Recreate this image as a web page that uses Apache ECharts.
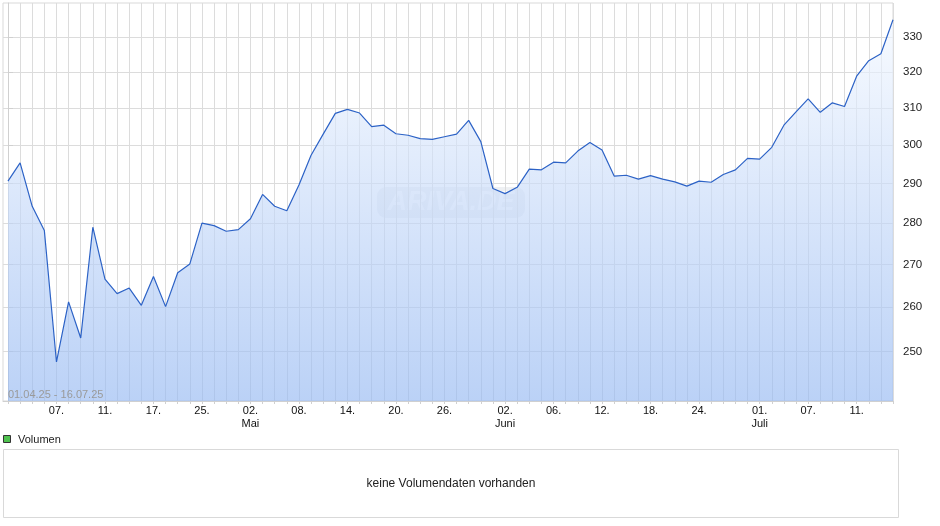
<!DOCTYPE html>
<html><head><meta charset="utf-8">
<script src="https://cdn.jsdelivr.net/npm/echarts@6/dist/echarts.min.js"></script>
<style>html,body{margin:0;padding:0;background:#fff}#c{width:940px;height:526px}</style>
</head><body><div id="c"></div>
<script>
const dates = ['01.04','02.04','03.04','04.04','07.04','08.04','09.04','10.04','11.04','14.04','15.04','16.04','17.04','22.04','23.04','24.04','25.04','28.04','29.04','30.04',
'02.05','05.05','06.05','07.05','08.05','09.05','12.05','13.05','14.05','15.05','16.05','19.05','20.05','21.05','22.05','23.05','26.05','27.05','28.05','29.05','30.05',
'02.06','03.06','04.06','05.06','06.06','09.06','10.06','11.06','12.06','13.06','16.06','17.06','18.06','19.06','20.06','23.06','24.06','25.06','26.06','27.06','30.06',
'01.07','02.07','03.07','04.07','07.07','08.07','09.07','10.07','11.07','14.07','15.07','16.07'];
const prices = [290.6,295.3,284.2,278.2,247.7,261.2,253.0,279.0,266.5,263.1,264.4,260.4,267.1,260.1,268.0,270.1,280.0,279.4,278.0,278.4,
281.1,287.2,284.2,283.1,289.6,297.3,302.9,308.5,309.6,308.6,304.9,305.3,303.0,302.6,301.7,301.5,302.2,302.9,306.6,300.9,288.7,
287.4,289.0,293.7,293.5,295.5,295.3,298.4,300.7,298.7,291.9,292.1,291.1,292.0,291.1,290.4,289.3,290.6,290.3,292.3,293.5,296.5,
296.3,299.4,305.3,308.9,312.5,308.8,311.4,310.4,318.8,323.2,325.2,335.1];
const labelDates = ['07.04','11.04','17.04','25.04','02.05','08.05','14.05','20.05','26.05','02.06','06.06','12.06','18.06','24.06','01.07','07.07','11.07'];
const monthNames = {'05':'Mai','06':'Juni','07':'Juli'};
const yTicks = [250,260,270,280,290,300,310,320,330];
const rangeText = '01.04.25 - 16.07.25';
const volumeLabel = 'Volumen';
const volumeEmpty = 'keine Volumendaten vorhanden';
const watermark = 'ARIVA.DE';

const FONT = 'Liberation Sans, Arial, sans-serif';
const labelIdx = labelDates.map(d => dates.indexOf(d));
const allIdx = dates.map((d, i) => i);
const seriesData = prices.map((p, i) => [i, p]);

function xFmt(v) {
  const i = Math.round(v);
  const d = dates[i];
  if (!d) return '';
  const day = d.slice(0, 2) + '.';
  const m = d.slice(3);
  const newMonth = i > 0 && dates[i - 1].slice(3) !== m;
  return newMonth ? day + '\n' + (monthNames[m] || '') : day;
}

const chart = echarts.init(document.getElementById('c'), null, {renderer: 'canvas'});
chart.setOption({
  animation: false,
  backgroundColor: '#fff',
  grid: {left: 3, right: 47, top: 3, bottom: 125, show: true, borderColor: '#d9d9d9', borderWidth: 1, backgroundColor: 'transparent'},
  xAxis: {
    type: 'value', min: -0.41, max: dates.length - 1,
    axisLine: {show: true, lineStyle: {color: '#d0d0d0'}},
    axisTick: {show: true, customValues: allIdx, length: 3, lineStyle: {color: '#d0d0d0'}},
    axisLabel: {customValues: labelIdx, formatter: xFmt, color: '#111', fontSize: 11, fontFamily: FONT, margin: 3, lineHeight: 13},
    splitLine: {show: true, lineStyle: {color: '#dcdcdc'}}
  },
  yAxis: {
    type: 'log', logBase: 10, position: 'right', min: 239.3, max: 340.1,
    axisLine: {show: true, lineStyle: {color: '#d0d0d0'}},
    axisTick: {show: true, customValues: yTicks, length: 5, lineStyle: {color: '#d0d0d0'}},
    axisLabel: {customValues: yTicks, color: '#222', fontSize: 11.5, fontFamily: FONT, margin: 10},
    splitLine: {show: true, lineStyle: {color: '#dcdcdc'}}
  },
  series: [{
    type: 'line', data: seriesData, showSymbol: false, symbol: 'none',
    lineStyle: {color: '#2c62c6', width: 1.2},
    areaStyle: {opacity: 1, color: new echarts.graphic.LinearGradient(0, 0, 0, 1, [
      {offset: 0, color: 'rgba(243,248,255,0.65)'},
      {offset: 1, color: 'rgba(150,185,242,0.65)'}
    ])}
  }],
  graphic: [
    {type: 'text', left: 8, top: 389, z: 10, style: {text: rangeText, fill: '#9a9a9a', font: '11px ' + FONT}},
    {type: 'group', z: 10, children: [
      {type: 'rect', shape: {x: 377, y: 187, width: 148, height: 31, r: 9}, style: {fill: 'rgba(150,160,180,0.16)'}},
      {type: 'text', x: 451, y: 203, style: {text: watermark, fill: 'rgba(255,255,255,0.8)', font: 'italic bold 27px ' + FONT, align: 'center', verticalAlign: 'middle'}}
    ]},
    {type: 'rect', shape: {x: 3.5, y: 435.5, width: 7, height: 7}, style: {fill: '#4fc24f', stroke: '#333', lineWidth: 1}},
    {type: 'text', x: 18, y: 440, style: {text: volumeLabel, fill: '#222', font: '11px ' + FONT, verticalAlign: 'middle'}},
    {type: 'rect', shape: {x: 3.5, y: 449.5, width: 895, height: 68}, style: {fill: 'none', stroke: '#d9d9d9', lineWidth: 1}},
    {type: 'text', x: 451, y: 484, style: {text: volumeEmpty, fill: '#222', font: '12px ' + FONT, align: 'center', verticalAlign: 'middle'}}
  ]
});
</script></body></html>
